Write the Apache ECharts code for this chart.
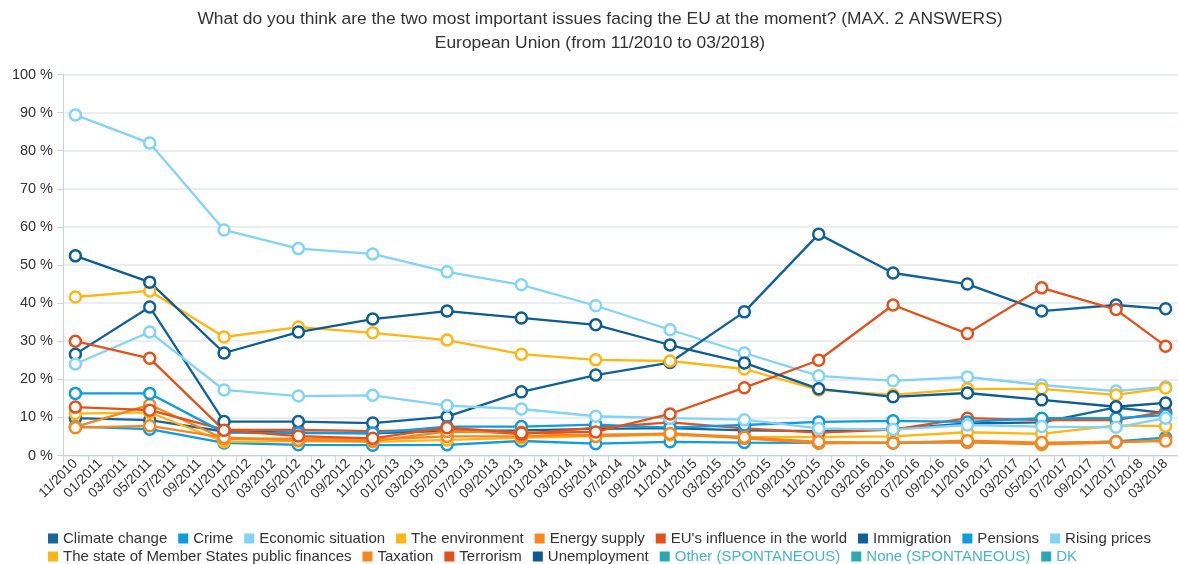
<!DOCTYPE html>
<html>
<head>
<meta charset="utf-8">
<script src="https://cdn.jsdelivr.net/npm/echarts@6/dist/echarts.min.js"></script>
<style>
html,body{margin:0;padding:0;background:#fff;}
#chart{width:1178px;height:564px;}
</style>
</head>
<body>
<div id="chart"></div>
<script>
// Axis categories (every two months)
const categories = ['11/2010','01/2011','03/2011','05/2011','07/2011','09/2011','11/2011',
  '01/2012','03/2012','05/2012','07/2012','09/2012','11/2012',
  '01/2013','03/2013','05/2013','07/2013','09/2013','11/2013',
  '01/2014','03/2014','05/2014','07/2014','09/2014','11/2014',
  '01/2015','03/2015','05/2015','07/2015','09/2015','11/2015',
  '01/2016','03/2016','05/2016','07/2016','09/2016','11/2016',
  '01/2017','03/2017','05/2017','07/2017','09/2017','11/2017',
  '01/2018','03/2018'];
// Survey waves (where values exist)
const surveys = ['11/2010','05/2011','11/2011','05/2012','11/2012','05/2013','11/2013','05/2014',
  '11/2014','05/2015','11/2015','05/2016','11/2016','05/2017','11/2017','03/2018'];

const yTicks = [0,10,20,30,40,50,60,70,80,90,100];

const climateChange     = [9.8, 9.3, 6.3, 6.0, 5.8, 6.5, 6.6, 7.0, 7.2, 6.6, 6.4, 6.9, 8.4, 8.7, 12.6, 11.1];
const crime             = [7.6, 6.9, 3.3, 2.8, 2.7, 2.8, 3.8, 3.1, 3.6, 3.4, 3.3, 3.3, 3.5, 3.1, 3.7, 4.7];
const economicSituation = [89.4, 82.0, 59.2, 54.3, 52.9, 48.2, 44.8, 39.3, 33.0, 26.9, 20.9, 19.6, 20.6, 18.5, 16.9, 18.0];
const environment       = [11.0, 11.3, 3.6, 3.8, 3.6, 4.1, 4.6, 5.1, 5.4, 4.8, 4.9, 5.0, 6.1, 5.7, 7.9, 7.7];
const energySupply      = [7.5, 13.3, 4.4, 4.4, 4.2, 5.0, 5.0, 5.5, 5.7, 4.5, 3.2, 3.4, 3.5, 2.9, 3.4, 4.1];
const euInfluence       = [12.7, 11.9, 6.8, 6.7, 6.4, 6.8, 5.6, 7.3, 8.7, 7.1, 6.0, 6.8, 9.8, 9.3, 9.3, 11.5];
const immigration       = [26.6, 39.0, 8.9, 8.9, 8.5, 10.2, 16.7, 21.1, 24.4, 37.7, 58.1, 47.9, 45.0, 37.9, 39.5, 38.5];
const pensions          = [16.3, 16.3, 6.0, 5.9, 5.9, 7.6, 7.6, 8.1, 7.3, 8.0, 8.8, 9.1, 8.8, 9.8, 9.8, 10.6];
const risingPrices      = [24.0, 32.4, 17.2, 15.6, 15.8, 13.1, 12.2, 10.3, 9.8, 9.4, 7.1, 6.8, 8.0, 7.6, 7.4, 9.8];
const publicFinances    = [41.6, 43.2, 31.1, 33.7, 32.2, 30.3, 26.6, 25.1, 24.8, 22.7, 17.2, 15.9, 17.5, 17.5, 15.9, 17.7];
const taxation          = [7.3, 7.8, 4.7, 4.0, 3.8, 6.3, 6.1, 5.0, 5.8, 4.8, 3.6, 3.3, 3.9, 3.4, 3.6, 3.8];
const terrorism         = [30.0, 25.5, 6.6, 5.1, 4.5, 7.3, 5.9, 6.2, 10.9, 17.8, 25.0, 39.5, 32.0, 44.0, 38.3, 28.7];
const unemployment      = [52.4, 45.5, 26.9, 32.4, 35.8, 37.9, 36.1, 34.3, 29.0, 24.3, 17.5, 15.4, 16.4, 14.6, 12.8, 13.8];
const otherSpont        = [];
const noneSpont         = [];
const dk                = [];

const seriesNames = ['Climate change','Crime','Economic situation','The environment','Energy supply',
  "EU's influence in the world",'Immigration','Pensions','Rising prices',
  'The state of Member States public finances','Taxation','Terrorism','Unemployment',
  'Other (SPONTANEOUS)','None (SPONTANEOUS)','DK'];
const seriesValues = [climateChange, crime, economicSituation, environment, energySupply,
  euInfluence, immigration, pensions, risingPrices, publicFinances, taxation, terrorism,
  unemployment, otherSpont, noneSpont, dk];
const seriesColors = ['#16659b','#0d9be3','#82d3f5','#ffb612','#f7861f','#e1521b','#10609a',
  '#0d9be3','#82d3f5','#ffb612','#f7861f','#e1521b','#0c5c91','#2aa8b8','#2aa8b8','#2aa8b8'];
const legendTextColors = seriesNames.map((n,i)=> i>=13 ? '#45b5cc' : '#333333');

function toAxis(vals){
  const out = categories.map(()=>null);
  vals.forEach((v,i)=>{ const k = categories.indexOf(surveys[i]); if(k>=0) out[k]=v; });
  return out;
}

const series = seriesNames.map((name,i)=>({
  name: name,
  type: 'line',
  data: toAxis(seriesValues[i]),
  connectNulls: true,
  symbol: 'circle',
  symbolSize: 11,
  color: seriesColors[i],
  lineStyle: {width: 2.3, color: seriesColors[i]},
  itemStyle: {color: '#ffffff', borderColor: seriesColors[i], borderWidth: 2.5},
  emphasis: {disabled: true}
}));

function legendItems(from, to){
  const arr = [];
  for(let i=from;i<to;i++){
    arr.push({name: seriesNames[i], icon: 'rect',
      itemStyle: {color: seriesColors[i], borderWidth: 0},
      textStyle: {color: legendTextColors[i]}});
  }
  return arr;
}

const chart = echarts.init(document.getElementById('chart'), null, {renderer: 'canvas'});
chart.setOption({
  animation: false,
  backgroundColor: '#ffffff',
  title: {
    text: 'What do you think are the two most important issues facing the EU at the moment? (MAX. 2 ANSWERS)\nEuropean Union (from 11/2010 to 03/2018)',
    left: 595,
    top: 2,
    textAlign: 'center',
    textStyle: {fontFamily: 'Liberation Sans', fontSize: 17.4, fontWeight: 'normal', color: '#333333', lineHeight: 24}
  },
  legend: [
    {data: legendItems(0,9), left: 43, top: 526, itemWidth: 10, itemHeight: 10, itemGap: 11,
     selectedMode: false, textStyle: {fontFamily: 'Liberation Sans', fontSize: 15, color: '#333'}},
    {data: legendItems(9,16), left: 43, top: 544, itemWidth: 10, itemHeight: 10, itemGap: 11,
     selectedMode: false, textStyle: {fontFamily: 'Liberation Sans', fontSize: 15, color: '#333'}}
  ],
  grid: {left: 63, width: 1120, top: 74.5, bottom: 108.5, containLabel: false},
  xAxis: {
    type: 'category',
    data: categories,
    boundaryGap: true,
    axisLine: {lineStyle: {color: '#c8d2e0', width: 1}},
    axisTick: {show: true, length: 7, lineStyle: {color: '#c8d2e0'}},
    axisLabel: {interval: 0, rotate: 45, fontFamily: 'Liberation Sans', fontSize: 13.6, color: '#333', margin: 6}
  },
  yAxis: {
    type: 'value',
    min: yTicks[0], max: yTicks[yTicks.length-1], interval: 10,
    axisLine: {show: true, lineStyle: {color: '#c8d2e0'}},
    axisTick: {show: true, length: 6, lineStyle: {color: '#c8d2e0'}},
    axisLabel: {formatter: '{value} %', fontFamily: 'Liberation Sans', fontSize: 14.5, color: '#333', margin: 10},
    splitLine: {lineStyle: {color: '#e3e7ed', width: 1.5}}
  },
  series: series
});
</script>
</body>
</html>
